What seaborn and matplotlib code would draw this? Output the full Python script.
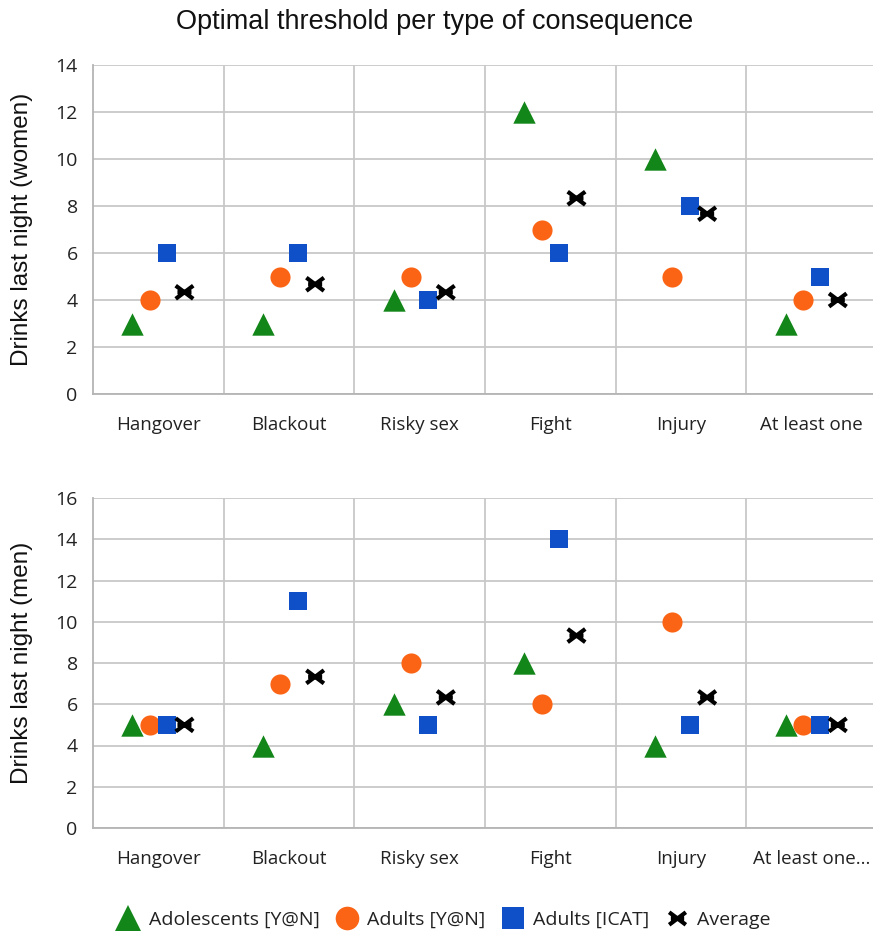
import numpy as np
import pandas as pd
import matplotlib
matplotlib.use("Agg")
import matplotlib.pyplot as plt
from matplotlib.lines import Line2D
from matplotlib.path import Path
import seaborn as sns

categories_women = ["Hangover", "Blackout", "Risky sex", "Fight", "Injury", "At least one"]
categories_men = ["Hangover", "Blackout", "Risky sex", "Fight", "Injury", "At least one..."]
series_names = ["Adolescents [Y@N]", "Adults [Y@N]", "Adults [ICAT]", "Average"]

women_adolescents = [3, 3, 4, 12, 10, 3]
women_adults_yn = [4, 5, 5, 7, 5, 4]
women_adults_icat = [6, 6, 4, 6, 8, 5]
women_average = [4.33, 4.67, 4.33, 8.33, 7.67, 4.0]

men_adolescents = [5, 4, 6, 8, 4, 5]
men_adults_yn = [5, 7, 8, 6, 10, 5]
men_adults_icat = [5, 11, 5, 14, 5, 5]
men_average = [5.0, 7.33, 6.33, 9.33, 6.33, 5.0]

sns.set_theme(style="white")
plt.rcParams['font.family'] = ['Liberation Sans', 'DejaVu Sans']

star = Path([(-1, -0.75), (1, 0.75), (-1, 0.75), (1, -0.75), (-0.8, 0), (0.8, 0)],
            [Path.MOVETO, Path.LINETO, Path.MOVETO, Path.LINETO, Path.MOVETO, Path.LINETO])

colors = ["#13861a", "#fb6414", "#0f50c8", "#000000"]
markers = ["^", "o", "s", star]
sizes = [260, 210, 170, 160]
offsets = [-0.2, -0.067, 0.067, 0.2]

fig = plt.figure(figsize=(8.73, 9.33), dpi=100)
ax1 = fig.add_axes([93/873, 1-394/933, 784/873, 329/933])
ax2 = fig.add_axes([93/873, 1-828/933, 784/873, 330/933])

def draw(ax, cats, series, ymax, ylabel):
    rows = []
    for si, (name, vals) in enumerate(zip(series_names, series)):
        for ci, (c, v) in enumerate(zip(cats, vals)):
            rows.append({"series": name, "cat": c, "x": ci + offsets[si], "y": v})
    df = pd.DataFrame(rows)
    for si, name in enumerate(series_names):
        sub = df[df["series"] == name]
        if si == 3:
            sns.scatterplot(data=sub, x="x", y="y", ax=ax, marker=markers[si],
                            facecolor="none", s=sizes[si], linewidth=3.0,
                            edgecolor=colors[si], zorder=3, legend=False)
        else:
            sns.scatterplot(data=sub, x="x", y="y", ax=ax, marker=markers[si],
                            color=colors[si], s=sizes[si], linewidth=0,
                            zorder=3, legend=False)
    ax.set_xlim(-0.5, len(cats) - 0.5)
    ax.set_ylim(0, ymax)
    ax.set_yticks(np.arange(0, ymax + 1, 2))
    ax.set_xticks(range(len(cats)))
    ax.set_xticklabels(cats, fontfamily="Open Sans", fontsize=13.5, color="#222222")
    ax.set_xticks(np.arange(0.5, len(cats) - 0.5, 1), minor=True)
    ax.grid(True, axis="y", color="#c8c8c8", linewidth=1.3, zorder=0)
    ax.grid(True, axis="x", which="minor", color="#c8c8c8", linewidth=1.3, zorder=0)
    ax.grid(False, axis="x", which="major")
    ax.tick_params(axis="x", which="both", length=0, pad=16)
    ax.tick_params(axis="y", length=0, pad=11, labelsize=14, labelcolor="#222222")
    for lab in ax.get_yticklabels():
        lab.set_fontfamily("Open Sans")
    for s in ["top", "right"]:
        ax.spines[s].set_visible(False)
    for s in ["left", "bottom"]:
        ax.spines[s].set_color("#b4b4b4")
        ax.spines[s].set_linewidth(1.3)
    ax.set_xlabel("")
    ax.set_ylabel(ylabel, fontsize=17.5, color="#111111")
    ax.yaxis.set_label_coords((33 - 93) / 784, 0.5)

draw(ax1, categories_women, [women_adolescents, women_adults_yn, women_adults_icat, women_average], 14,
     "Drinks last night (women)")
draw(ax2, categories_men, [men_adolescents, men_adults_yn, men_adults_icat, men_average], 16,
     "Drinks last night (men)")

fig.text(0.498, 1-22/933, "Optimal threshold per type of consequence", ha="center", va="center",
         fontsize=19.5, color="#111111")

handles = []
for si, name in enumerate(series_names):
    if si == 3:
        handles.append(Line2D([0], [0], linestyle="none", marker=star, color=colors[si],
                              markersize=12, markeredgewidth=3.0, markerfacecolor="none",
                              markeredgecolor=colors[si], label=name))
    else:
        handles.append(Line2D([0], [0], linestyle="none", marker=markers[si], color=colors[si],
                              markersize=[19, 17, 16][si], markeredgewidth=0, label=name))
fig.legend(handles=handles, loc="center", bbox_to_anchor=(0.508, 1-920/933), ncol=4, frameon=False,
           prop={"family": "Open Sans", "size": 14}, handletextpad=0.45, columnspacing=0.8,
           handlelength=1.2, labelcolor="#222222")

fig.savefig("out.png", dpi=100)
